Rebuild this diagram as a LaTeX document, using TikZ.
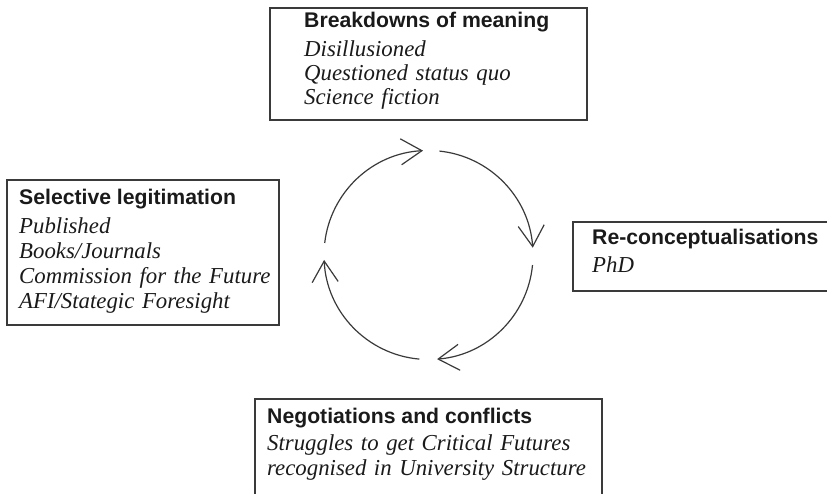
\documentclass[tikz,border=0pt]{standalone}
\usepackage{fontspec}
\setmainfont{Liberation Serif}
\setsansfont{Liberation Sans}
\usetikzlibrary{arrows.meta}
\definecolor{ink}{HTML}{1A1A1A}
\definecolor{rule}{HTML}{3A3A3A}
\begin{document}
\begin{tikzpicture}[x=1pt,y=1pt,
  panel/.style={draw=rule, line width=1.2pt, anchor=north west, inner sep=0pt, outer sep=0pt},
  heading/.style={anchor=base west, inner sep=0pt, text=ink,
    font=\sffamily\bfseries\fontsize{21.2}{24}\selectfont},
  items/.style={anchor=base west, inner sep=0pt, text=ink, align=left, text width=#1,
    font=\itshape\fontsize{22.8}{25}\selectfont},
  cycle/.style={draw=rule, line width=1.2pt,
    -{Straight Barb[length=21pt,width=26pt,line width=1.2pt]}}]
\useasboundingbox (0,0) rectangle (827,493);
\clip (0,0) rectangle (827,493);

% top panel
\node[panel, minimum width=317pt, minimum height=112pt] (topbox) at (270,485) {};
\node[heading] (toph) at (304,465) {Breakdowns of meaning};
\node[items=270pt, font=\itshape\fontsize{22.8}{24}\selectfont] (topi) at (304,436)
  {Disillusioned\\Questioned status quo\\Science fiction};

% left panel
\node[panel, minimum width=272pt, minimum height=145pt] (leftbox) at (7,313) {};
\node[heading] (lefth) at (19,288) {Selective legitimation};
\node[items=260pt] (lefti) at (19,259)
  {Published\\Books/Journals\\Commission for the Future\\AFI/Stategic Foresight};

% right panel
\node[panel, minimum width=272pt, minimum height=69pt] (rightbox) at (573,271) {};
\node[heading] (righth) at (592,248) {Re-conceptualisations};
\node[items=200pt] (righti) at (592,220) {PhD};

% bottom panel
\node[panel, minimum width=347pt, minimum height=116pt] (botbox) at (255,94) {};
\node[heading] (both) at (267,70) {Negotiations and conflicts};
\node[items=340pt] (boti) at (267,43)
  {Struggles to get Critical Futures\\recognised in University Structure};

% the cycle of four arcs
\coordinate (hub) at (428.5,238);
\def\rad{104.5}
\draw[cycle] (hub) ++(84:\rad) arc[start angle=84, end angle=4, radius=\rad];
\draw[cycle] (hub) ++(-5.5:\rad) arc[start angle=-5.5, end angle=-85.3, radius=\rad];
\draw[cycle] (hub) ++(-95:\rad) arc[start angle=-95, end angle=-177.3, radius=\rad];
\draw[cycle] (hub) ++(173.4:\rad) arc[start angle=173.4, end angle=93, radius=\rad];
\end{tikzpicture}
\end{document}
